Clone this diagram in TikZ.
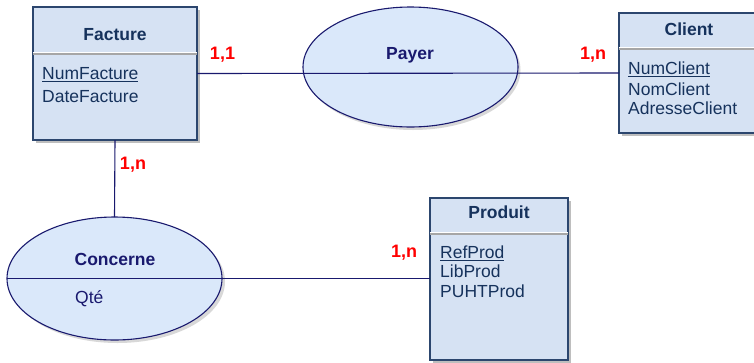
\documentclass[tikz,border=0pt]{standalone}
\usepackage{fontspec}
\setmainfont{Liberation Sans}
\usetikzlibrary{shapes.geometric}
\definecolor{boxfill}{RGB}{214,226,243}
\definecolor{ellfill}{RGB}{218,232,250}
\definecolor{boxline}{RGB}{44,70,110}
\definecolor{navy}{RGB}{25,25,110}
\definecolor{titletext}{RGB}{22,50,92}
\definecolor{shadowgray}{RGB}{190,190,190}
\begin{document}
\begin{tikzpicture}[x=1pt,y=-1pt,
  every node/.style={font=\fontsize{17.5}{20}\selectfont},
  entity/.style={draw=boxline, fill=boxfill, line width=1.2pt, rectangle, inner sep=0, outer sep=0},
  assoc/.style={draw=navy, fill=ellfill, line width=1.1pt, ellipse, inner sep=0, outer sep=0},
  ttl/.style={font=\fontsize{17.5}{20}\selectfont\bfseries, text=titletext},
  asttl/.style={font=\fontsize{17.5}{20}\selectfont\bfseries, text=navy},
  attr/.style={anchor=west, text=titletext, inner sep=0},
  card/.style={font=\fontsize{18}{20}\selectfont\bfseries, text=red},
  link/.style={draw=navy, line width=1.1pt},
  shadow/.style={fill=shadowgray, draw=none},
  sep/.style={draw=gray!70, line width=1.2pt}
]
\clip (0,0) rectangle (754,362);
\fill[white] (0,0) rectangle (754,362);
% shadows
\fill[shadow] (36,10) rectangle (200,143);
\fill[shadow] (622,16) rectangle (760,136);
\fill[shadow] (433,201) rectangle (571,363);
\fill[shadow, opacity=0.6] (413,70) ellipse [x radius=107.5, y radius=60];
\fill[shadow, opacity=0.6] (117.5,281.5) ellipse [x radius=107.5, y radius=61.5];

% entities
\node[entity, minimum width=164, minimum height=133] (facture) at (115,73.5) {};
\node[entity, minimum width=141, minimum height=120] (client) at (689.5,73) {};
\node[entity, minimum width=138, minimum height=162] (produit) at (499,279) {};
\draw[white, line width=1pt] (33,52.5) -- (197,52.5);
\draw[sep] (33,54) -- (197,54);
\draw[white, line width=1pt] (619,47.5) -- (760,47.5);
\draw[sep] (619,49) -- (760,49);
\draw[white, line width=1pt] (430,232.5) -- (568,232.5);
\draw[sep] (430,234) -- (568,234);

% associations
\node[assoc, minimum width=215, minimum height=120] (payer) at (410.5,67) {};
\node[assoc, minimum width=215, minimum height=123] (concerne) at (114.5,278.5) {};

% connectors
\draw[link] (facture.east) -- (client.west);
\draw[link] (facture.south) -- (concerne.north);
\draw[link] (concerne.west) -- (concerne.west -| produit.west);

% titles
\node[ttl] (tfacture) at (115,35) {Facture};
\node[ttl] (tclient) at (689,29) {Client};
\node[ttl] (tproduit) at (499,212) {Produit};
\node[asttl] (tpayer) at (410,55) {Payer};
\node[asttl] (tconcerne) at (115,259) {Concerne};

% attributes
\node[attr] (a1) at (42,75) {\underline{NumFacture}};
\node[attr] (a2) at (42,97) {DateFacture};
\node[attr] (a3) at (628,69.5) {\underline{NumClient}};
\node[attr] (a4) at (628,89) {NomClient};
\node[attr] (a5) at (628,108.5) {AdresseClient};
\node[attr] (a6) at (440,253) {\underline{RefProd}};
\node[attr] (a7) at (440,271.5) {LibProd};
\node[attr] (a8) at (440,291) {PUHTProd};
\node[attr, text=navy] (a9) at (75,299) {Qté};

% cardinalities
\node[card] (c1) at (222.5,55) {1,1};
\node[card] (c2) at (593,55) {1,n};
\node[card] (c3) at (133,165) {1,n};
\node[card] (c4) at (404,253) {1,n};
\end{tikzpicture}
\end{document}
